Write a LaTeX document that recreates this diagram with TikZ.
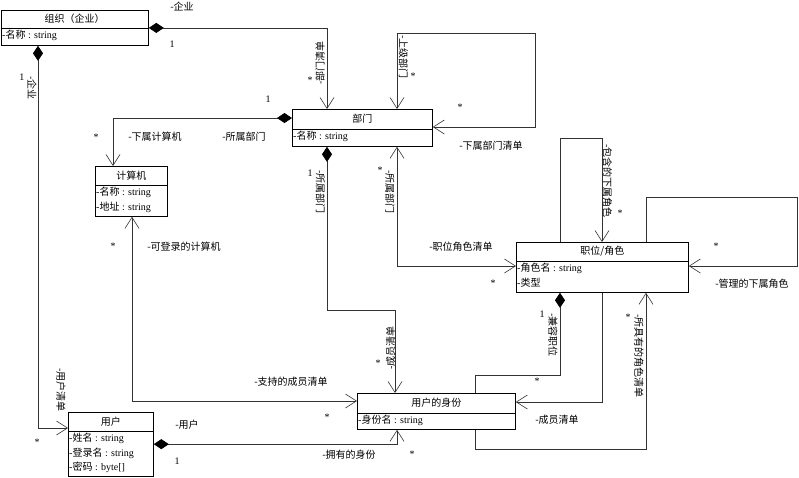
\documentclass[tikz,border=0pt]{standalone}
\usepackage{fontspec}
\setmainfont{Liberation Serif}
\newfontfamily\zh{Noto Sans CJK SC}
\usetikzlibrary{arrows.meta}

\tikzset{
  cls/.style={draw, line width=0.8pt, inner sep=0pt, anchor=north west},
  ttl/.style={font=\zh\fontsize{10}{12}\selectfont, inner sep=0pt},
  attr/.style={font=\fontsize{10}{14.5}\selectfont, align=left, anchor=north west, inner sep=1pt},
  lbl/.style={font=\zh\fontsize{10}{12}\selectfont, inner sep=0pt},
  mult/.style={font=\fontsize{10}{12}\selectfont, inner sep=0pt},
  link/.style={line width=0.6pt, draw=black!80},
  nav/.style={link, -{Straight Barb[length=11pt,width=14pt]}},
  twoway/.style={link, {Straight Barb[length=11pt,width=14pt]}-{Straight Barb[length=11pt,width=14pt]}},
  whole/.style={link, {Diamond[length=15pt,width=10pt,color=black]}-{Straight Barb[length=11pt,width=14pt]}},
  wholeonly/.style={link, {Diamond[length=15pt,width=10pt,color=black]}-},
}

\begin{document}
\begin{tikzpicture}[x=1pt, y=-1pt]
  \useasboundingbox (0,0) rectangle (799,477);

  % draw the classes
  \node[cls, minimum width=147.5pt, minimum height=35pt] (org) at (0.5,10) {};
  \node[cls, minimum width=140pt, minimum height=37pt] (dept) at (292,109) {};
  \node[cls, minimum width=72pt, minimum height=50pt] (comp) at (95,166) {};
  \node[cls, minimum width=172pt, minimum height=50pt] (role) at (516,242) {};
  \node[cls, minimum width=158pt, minimum height=36pt] (ident) at (357,393) {};
  \node[cls, minimum width=85pt, minimum height=63.5pt] (user) at (68,412) {};

  % the compartments
  \draw[line width=0.8pt] (org.west |- 0,28) -- (org.east |- 0,28);
  \draw[line width=0.8pt] (dept.west |- 0,129) -- (dept.east |- 0,129);
  \draw[line width=0.8pt] (comp.west |- 0,185) -- (comp.east |- 0,185);
  \draw[line width=0.8pt] (role.west |- 0,261) -- (role.east |- 0,261);
  \draw[line width=0.8pt] (ident.west |- 0,413) -- (ident.east |- 0,413);
  \draw[line width=0.8pt] (user.west |- 0,431) -- (user.east |- 0,431);

  % the texts
  \node[ttl] (orgT) at (org.north |- 0,19) {组织（企业）};
  \node[attr] (orgA) at (1,29) {-{\zh 名称} : string};
  \node[ttl] (deptT) at (dept.north |- 0,119) {部门};
  \node[attr] (deptA) at (292,130) {-{\zh 名称} : string};
  \node[ttl] (compT) at (comp.north |- 0,175.5) {计算机};
  \node[attr] (compA) at (95,186) {-{\zh 名称} : string\\-{\zh 地址} : string};
  \node[ttl] (roleT) at (role.north |- 0,251.5) {职位/角色};
  \node[attr] (roleA) at (516,262) {-{\zh 角色名} : string\\-{\zh 类型}};
  \node[ttl] (identT) at (ident.north |- 0,403) {用户的身份};
  \node[attr] (identA) at (357,414) {-{\zh 身份名} : string};
  \node[ttl] (userT) at (user.north |- 0,421.5) {用户};
  \node[attr] (userA) at (68,432) {-{\zh 姓名} : string\\-{\zh 登录名} : string\\-{\zh 密码} : byte[]};

  % draw the links
  \draw[whole] (org.east) -| (dept.north -| 327,0);
  \draw[whole] (org.south -| 38,0) |- (user.west |- 0,428);
  \draw[whole] (dept.west |- 0,118) -| (comp.north -| 113,0);
  \draw[twoway] (comp.south -| 132,0) |- (ident.west |- 0,401);
  \draw[whole] (user.east) -| (ident.south -| 397,0);
  \coordinate (k1) at (327,310);
  \draw[whole] (dept.south -| 327,0) -- (k1) -| (ident.north -| 395,0);
  \draw[twoway] (dept.south -| 397,0) |- (role.west |- 0,266);
  \coordinate (k2) at (535,33);
  \draw[twoway] (dept.north -| 397,0) |- (k2) |- (dept.east |- 0,127);
  \coordinate (k3) at (560,375);
  \draw[wholeonly] (role.south -| 560,0) -- (k3) -| (ident.north -| 475,0);
  \draw[nav] (role.south -| 602,0) |- (ident.east |- 0,402);
  \coordinate (k4) at (475,449);
  \draw[nav] (ident.south -| 475,0) -- (k4) -| (role.south -| 646,0);
  \coordinate (k5) at (560,138);
  \draw[nav] (role.north -| 560,0) -- (k5) -| (role.north -| 602,0);
  \coordinate (k6) at (646,197);
  \coordinate (k7) at (797,197);
  \draw[nav] (role.north -| 646,0) -- (k6) -- (k7) |- (role.east |- 0,266);

  % the multiplicities
  \node[mult] (m1) at (172,44) {1};
  \node[mult] (m2) at (310,80) {*};
  \node[mult] (m3) at (413,76) {*};
  \node[mult] (m4) at (460,107) {*};
  \node[mult] (m5) at (268,99) {1};
  \node[mult] (m6) at (96,137) {*};
  \node[mult] (m7) at (22,77) {1};
  \node[mult] (m8) at (37,442) {*};
  \node[mult] (m9) at (310,173) {1};
  \node[mult] (m10) at (380,170) {*};
  \node[mult] (m11) at (493,283) {*};
  \node[mult] (m12) at (620,213) {*};
  \node[mult] (m13) at (716,246) {*};
  \node[mult] (m14) at (542,314) {1};
  \node[mult] (m15) at (537,381) {*};
  \node[mult] (m16) at (628,317) {*};
  \node[mult] (m17) at (378,363) {*};
  \node[mult] (m18) at (327,417) {*};
  \node[mult] (m19) at (412,454) {*};
  \node[mult] (m20) at (177,461) {1};
  \node[mult] (m21) at (113,246) {*};

  % the role names
  \node[lbl] (r1) at (182,7) {-企业};
  \node[lbl, rotate=90] (r2) at (320,63) {-部门清单};
  \node[lbl, rotate=-90] (r3) at (403.5,57) {-上级部门};
  \node[lbl] (r4) at (491,146) {-下属部门清单};
  \node[lbl] (r5) at (244,137) {-所属部门};
  \node[lbl] (r6) at (155,137) {-下属计算机};
  \node[lbl, rotate=-90] (r7) at (32,88) {-企业};
  \node[lbl, rotate=-90] (r8) at (61,390) {-用户清单};
  \node[lbl, rotate=-90] (r9) at (320.5,192) {-所属部门};
  \node[lbl, rotate=-90] (r10) at (390,192) {-所属部门};
  \node[lbl] (r11) at (461,247) {-职位角色清单};
  \node[lbl, rotate=-90] (r12) at (607.5,181) {-包含的下属角色};
  \node[lbl] (r13) at (752,284) {-管理的下属角色};
  \node[lbl, rotate=-90] (r14) at (553,335) {-兼容职位};
  \node[lbl, rotate=-90] (r15) at (639,356) {-所具有的角色清单};
  \node[lbl, rotate=90] (r16) at (390.5,348) {-成员清单};
  \node[lbl] (r17) at (557,420) {-成员清单};
  \node[lbl] (r18) at (291,382) {-支持的成员清单};
  \node[lbl] (r19) at (349,455) {-拥有的身份};
  \node[lbl] (r20) at (187,425) {-用户};
  \node[lbl] (r21) at (184,247) {-可登录的计算机};
\end{tikzpicture}
\end{document}
